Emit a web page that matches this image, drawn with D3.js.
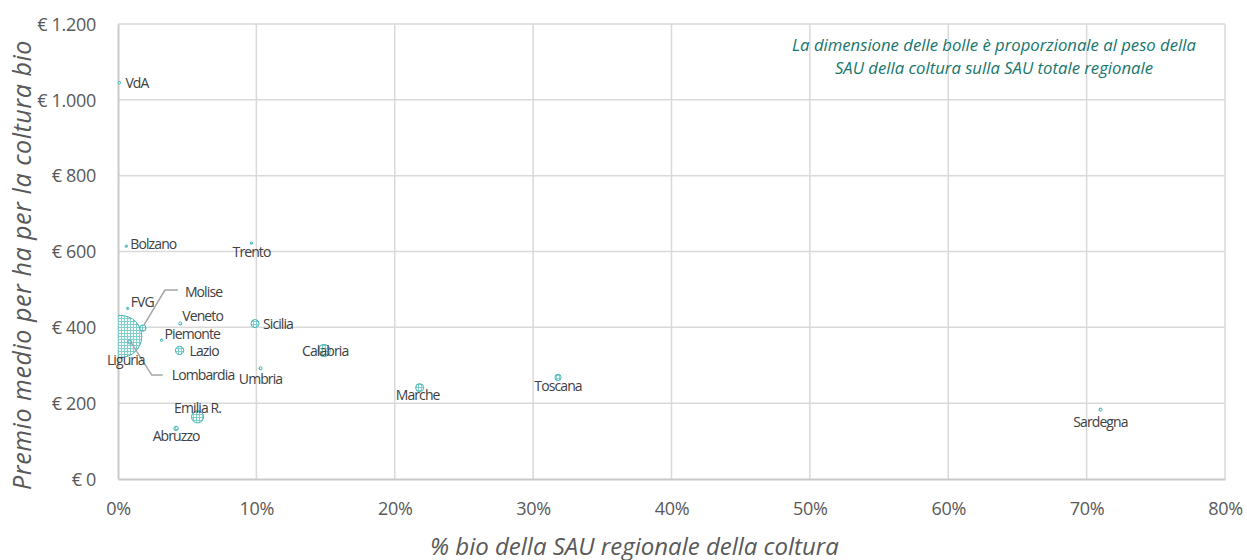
<!DOCTYPE html>
<html>
<head>
<meta charset="utf-8">
<script src="https://cdn.jsdelivr.net/npm/d3@7"></script>
<style>
  body { margin: 0; background: #fff; }
  svg, svg text { font-family: "Open Sans", "Noto Sans", sans-serif; }
  .tick text { fill: #595959; font-size: 18px; letter-spacing: -0.3px; font-family: "Open Sans", "Noto Sans", sans-serif; }
  .lbl { fill: #404040; font-size: 14px; letter-spacing: -0.9px; }
</style>
</head>
<body>
<div id="chart"></div>
<script>
// regions, % bio of SAU, premium per ha, weight of the crop on regional SAU
var regions = ["VdA", "Bolzano", "Trento", "FVG", "Molise", "Veneto", "Piemonte", "Lazio",
  "Liguria", "Lombardia", "Sicilia", "Calabria", "Umbria", "Marche", "Toscana", "Sardegna",
  "Emilia R.", "Abruzzo"];
var pctBio = [0.1, 0.6, 9.65, 0.7, 1.8, 4.5, 3.15, 4.45, 0.2, 0.85, 9.9, 14.9, 10.3, 21.8, 31.8, 71.0, 5.75, 4.2];
var premio = [1045, 614, 622, 450, 398, 410, 366, 339, 376, 361, 410, 339, 292, 241, 268, 183, 164, 133];
var peso = [0.01, 0.01, 0.01, 0.05, 0.4, 0.1, 0.06, 0.7, 18, 0.15, 0.65, 1.5, 0.1, 0.65, 0.4, 0.1, 1.5, 0.2];

var xTicks = [0, 0.1, 0.2, 0.3, 0.4, 0.5, 0.6, 0.7, 0.8];
var yTicks = [0, 200, 400, 600, 800, 1000, 1200];

// label placement: dx, dy from the point, anchor
var labelPos = {
  "VdA": [6, 5, "start"], "Bolzano": [4, 3, "start"], "Trento": [0, 14, "middle"],
  "FVG": [3, -1, "start"], "Molise": [42, -31, "start"], "Veneto": [2, -3, "start"],
  "Piemonte": [3, -1, "start"], "Lazio": [10, 6, "start"], "Liguria": [5, 29, "middle"],
  "Lombardia": [42, 38, "start"], "Sicilia": [8, 5, "start"], "Calabria": [1, 6, "middle"],
  "Umbria": [0, 16, "middle"], "Marche": [-2, 12, "middle"], "Toscana": [0, 14, "middle"],
  "Sardegna": [0, 17, "middle"], "Emilia R.": [0, -4, "middle"], "Abruzzo": [0, 12, "middle"]
};
// leader lines (relative to point)
var leaders = {
  "Molise": [[1, -3], [22, -38], [35, -38]],
  "Lombardia": [[1, 0], [22, 33], [33, 33]]
};

var svgWidth = 1247, svgHeight = 560;
var margin = {top: 24, right: 22, bottom: 81, left: 118};
var width = svgWidth - margin.left - margin.right;
var height = svgHeight - margin.top - margin.bottom;

var svg = d3.select("#chart").append("svg")
  .attr("width", svgWidth)
  .attr("height", svgHeight);

// grid hatch pattern for the bubbles
var defs = svg.append("defs");
var pat = defs.append("pattern")
  .attr("id", "hatch")
  .attr("width", 3).attr("height", 3)
  .attr("patternUnits", "userSpaceOnUse");
pat.append("rect").attr("width", 3).attr("height", 3).attr("fill", "#ffffff");
pat.append("path").attr("d", "M0,0.5H3M0.5,0V3")
  .attr("stroke", "#7fd0cf").attr("stroke-width", 1);

defs.append("clipPath").attr("id", "plotclip")
  .append("rect").attr("width", width).attr("height", height);

var chartGroup = svg.append("g")
  .attr("transform", `translate(${margin.left}, ${margin.top})`);

var xScale = d3.scaleLinear().domain([0, 0.8]).range([0, width]);
var yScale = d3.scaleLinear().domain([0, 1200]).range([height, 0]);
var rScale = d3.scaleSqrt().domain([0, 18]).range([0, 21]);

// gridlines
chartGroup.append("g")
  .selectAll("line.hg")
  .data(yTicks.slice(1))
  .enter().append("line")
  .attr("x1", 0).attr("x2", width)
  .attr("y1", d => yScale(d)).attr("y2", d => yScale(d))
  .attr("stroke", "#d9d9d9").attr("stroke-width", 1.5);

chartGroup.append("g")
  .selectAll("line.vg")
  .data(xTicks.slice(1))
  .enter().append("line")
  .attr("x1", d => xScale(d)).attr("x2", d => xScale(d))
  .attr("y1", 0).attr("y2", height)
  .attr("stroke", "#d9d9d9").attr("stroke-width", 1.5);

// axes
var itFormat = d3.formatLocale({decimal: ",", thousands: ".", grouping: [3], currency: ["€ ", ""]});
var bottomAxis = d3.axisBottom(xScale).tickValues(xTicks).tickSize(0).tickPadding(23)
  .tickFormat(d3.format(".0%"));
var leftAxis = d3.axisLeft(yScale).tickValues(yTicks).tickSize(0).tickPadding(22)
  .tickFormat(d => "€ " + itFormat.format(",")(d));

var xAxis = chartGroup.append("g")
  .attr("transform", `translate(0, ${height})`)
  .call(bottomAxis);
xAxis.attr("font-family", null);
xAxis.select(".domain").attr("stroke", "#c9c9c9").attr("stroke-width", 2);

var yAxis = chartGroup.append("g").call(leftAxis);
yAxis.attr("font-family", null);
yAxis.select(".domain").attr("stroke", "#c9c9c9").attr("stroke-width", 2);
yAxis.selectAll(".tick text").attr("dy", "0.35em");

// bubbles
var order = d3.range(regions.length).sort((a, b) => peso[b] - peso[a]);
chartGroup.append("g")
  .attr("clip-path", "url(#plotclip)")
  .selectAll("circle")
  .data(order)
  .enter().append("circle")
  .attr("cx", i => xScale(pctBio[i] / 100))
  .attr("cy", i => yScale(premio[i]))
  .attr("r", i => Math.max(1.2, rScale(peso[i])))
  .attr("fill", "url(#hatch)")
  .attr("stroke", "#3fb5b3")
  .attr("stroke-width", 1);

// leader lines
Object.keys(leaders).forEach(function(name) {
  var i = regions.indexOf(name);
  var px = xScale(pctBio[i] / 100), py = yScale(premio[i]);
  chartGroup.append("path")
    .attr("d", d3.line()(leaders[name].map(p => [px + p[0], py + p[1]])))
    .attr("fill", "none")
    .attr("stroke", "#a6a6a6")
    .attr("stroke-width", 1.5);
});

// labels
chartGroup.append("g")
  .selectAll("text")
  .data(regions)
  .enter().append("text")
  .attr("class", "lbl")
  .attr("x", (d, i) => xScale(pctBio[i] / 100) + labelPos[d][0])
  .attr("y", (d, i) => yScale(premio[i]) + labelPos[d][1])
  .attr("text-anchor", d => labelPos[d][2])
  .text(d => d);

// note
var note = chartGroup.append("text")
  .attr("text-anchor", "middle")
  .attr("font-style", "italic")
  .attr("font-size", 16.7)
  .attr("fill", "#17756d");
note.append("tspan").attr("x", 876).attr("y", 26.5).text("La dimensione delle bolle è proporzionale al peso della");
note.append("tspan").attr("x", 876).attr("y", 49.5).text("SAU della coltura sulla SAU totale regionale");

// axis titles
svg.append("text")
  .attr("transform", "rotate(-90)")
  .attr("x", -265)
  .attr("y", 31)
  .attr("text-anchor", "middle")
  .attr("font-style", "italic")
  .attr("font-size", 25)
  .attr("letter-spacing", 0.55)
  .attr("fill", "#595959")
  .text("Premio medio  per ha per la coltura bio");

svg.append("text")
  .attr("x", 430)
  .attr("y", 555)
  .attr("font-style", "italic")
  .attr("font-size", 24)
  .attr("fill", "#595959")
  .text("%  bio della SAU regionale della coltura");
</script>
</body>
</html>
